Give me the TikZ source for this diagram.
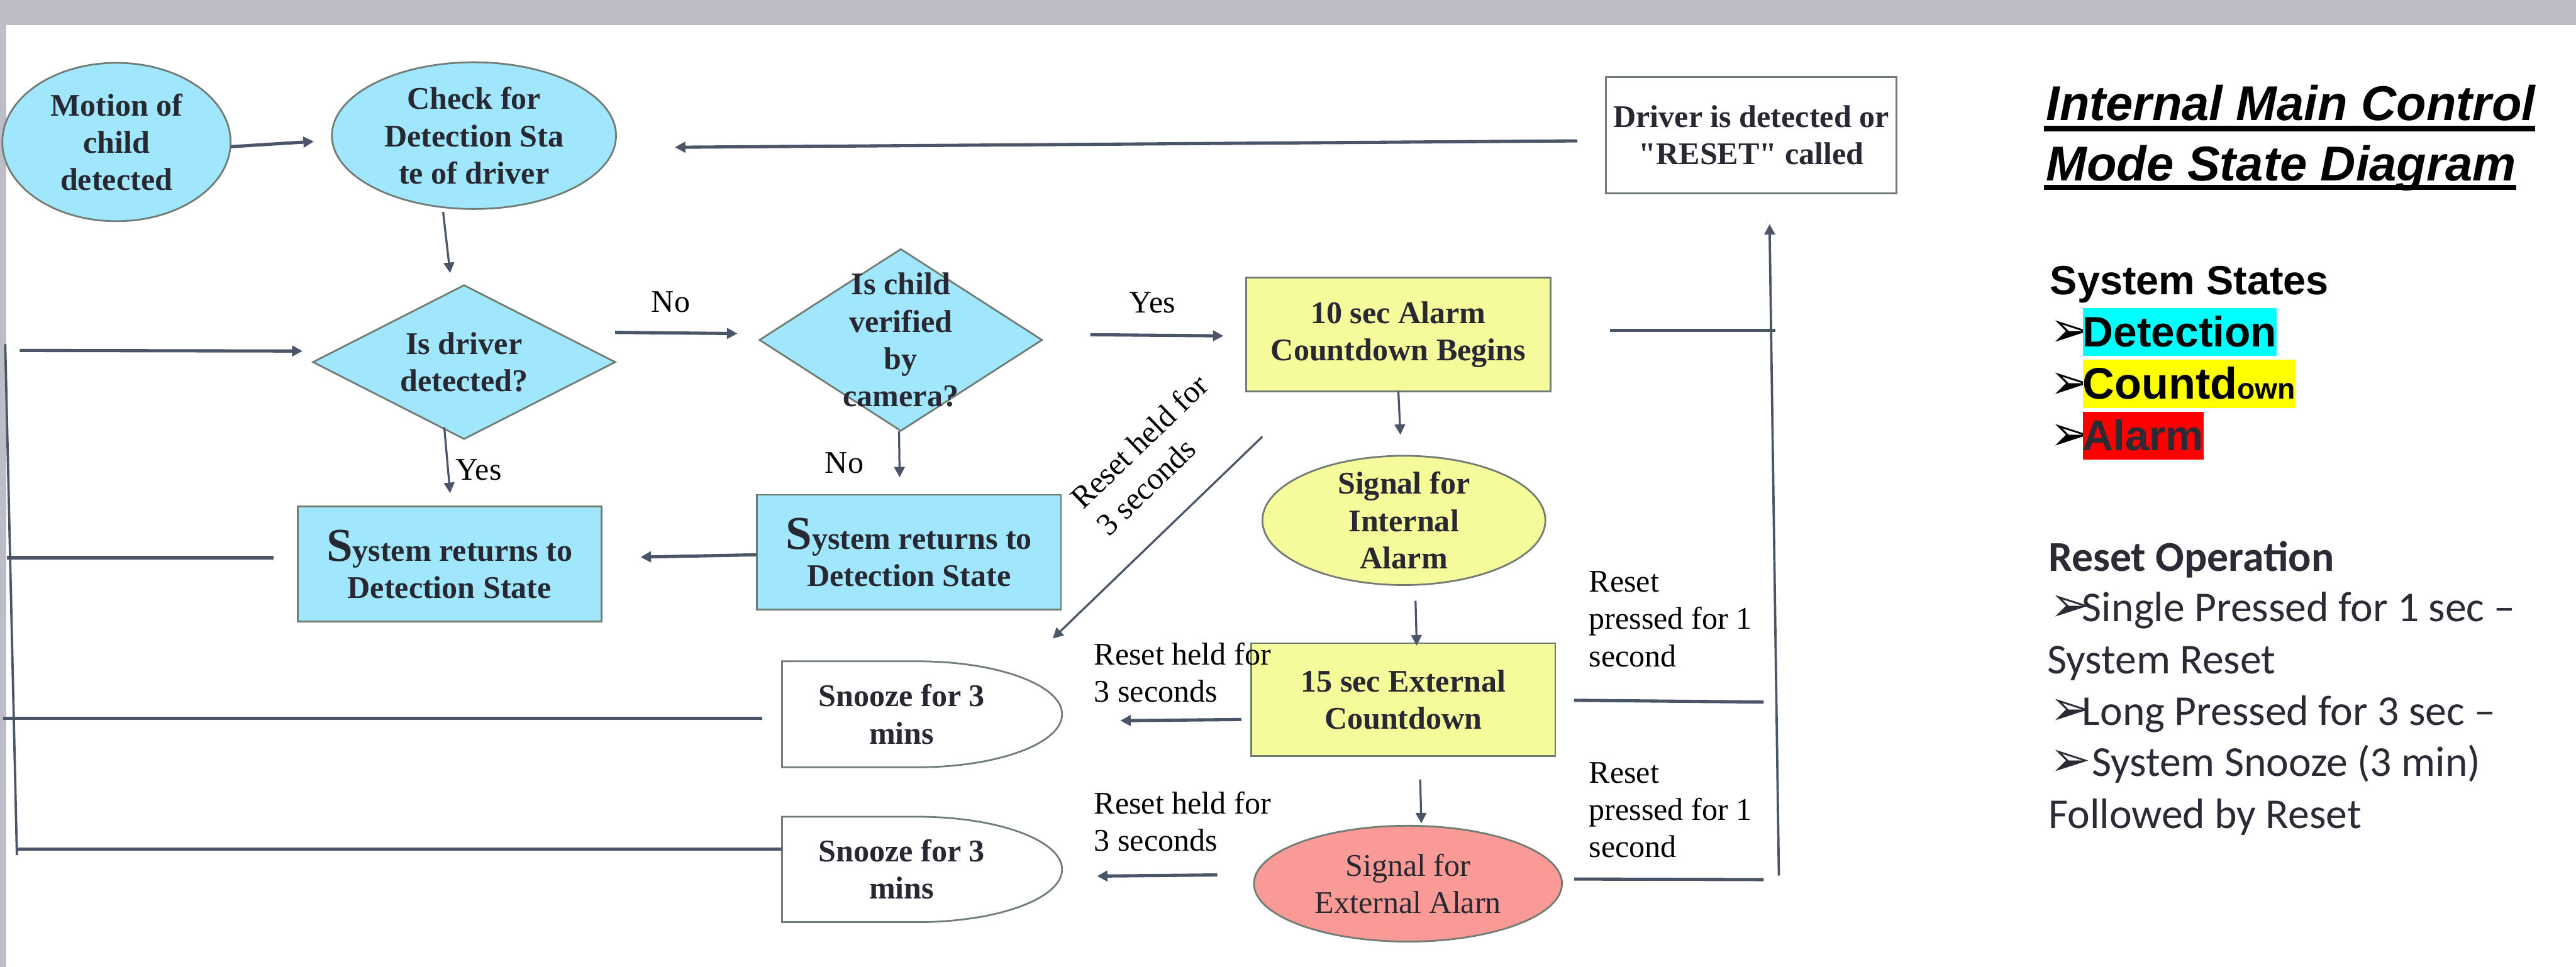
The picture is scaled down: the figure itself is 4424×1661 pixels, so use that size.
\documentclass[tikz,border=0pt]{standalone}
\usepackage{fontspec}
\setmainfont{Liberation Serif}
\newfontfamily\qfont[Ligatures=TeXOff]{Liberation Serif}
\newfontfamily\arialf{Liberation Sans}
\newfontfamily\calif{Carlito}
\newfontfamily\dvsf{DejaVu Sans}
\usetikzlibrary{shapes.geometric,arrows.meta}

\definecolor{bluefill}{RGB}{160,230,253}
\definecolor{yelfill}{RGB}{245,250,155}
\definecolor{redfill}{RGB}{249,154,151}
\definecolor{edgecol}{RGB}{112,124,116}
\definecolor{linecol}{RGB}{74,86,104}
\definecolor{txtcol}{RGB}{40,40,50}
\definecolor{bandcol}{RGB}{189,189,199}
\definecolor{hlcyan}{RGB}{0,255,255}
\definecolor{hlyellow}{RGB}{255,255,0}
\definecolor{hlred}{RGB}{255,0,0}
\definecolor{paneltxt}{RGB}{43,43,53}

\newcommand\dfont{\fontsize{15.4pt}{18.2pt}\selectfont}
\newcommand\bigS{{\fontsize{23pt}{18pt}\selectfont S}}
\newcommand\bulmark{\makebox[5.5mm][l]{\dvsf\fontsize{24pt}{24pt}\selectfont ➢}}
\newcommand\sq{{\qfont\bfseries "}}

\begin{document}
\begin{tikzpicture}[x=0.1mm,y=-0.1mm,
  every node/.style={inner sep=0pt,outer sep=0pt},
  shapebase/.style={draw=edgecol,line width=0.3mm},
  ell/.style={shapebase,ellipse},
  dia/.style={shapebase,diamond},
  box/.style={shapebase,rectangle},
  lbl/.style={font=\dfont\bfseries,align=center,text=txtcol},
  lblr/.style={font=\dfont,align=center,text=txtcol},
  lab/.style={font=\dfont,text=black,align=left},
  thickc/.style={draw=linecol,line width=0.55mm},
  thinc/.style={draw=linecol,line width=0.35mm},
  vline/.style={draw=linecol,line width=0.4mm},
  arr/.style={-{Triangle[length=1.8mm,width=1.8mm]}},
  hl/.style={anchor=base west,font=\arialf\bfseries\fontsize{20.8pt}{24pt}\selectfont,text height=6.7mm,text depth=1.55mm},
  rp/.style={anchor=base west,font=\calif\fontsize{20.8pt}{25pt}\selectfont,text=paneltxt},
]
\useasboundingbox (0,0) rectangle (4424,1661);
\fill[white] (0,0) rectangle (4424,1661);
\fill[bandcol] (0,0) rectangle (4424,43);
\fill[bandcol] (0,0) rectangle (11,1661);

% ---- shapes ----
\node[ell,fill=bluefill,minimum width=39.2mm,minimum height=27.2mm,
  label={[lbl]center:{Motion of\\child\\detected}}] (motion) at (200,244) {};
\node[ell,fill=bluefill,minimum width=48.8mm,minimum height=25.2mm,
  label={[lbl]center:{Check for\\Detection Sta\\te of driver}}] (check) at (814,233) {};
\node[dia,fill=bluefill,minimum width=51.9mm,minimum height=26.4mm,
  label={[lbl]center:{Is driver\\detected?}}] (ddet) at (797,622) {};
\node[dia,fill=bluefill,minimum width=48.5mm,minimum height=31.2mm,
  label={[lbl]center:{Is child\\verified\\by\\camera?}}] (cver) at (1547,584) {};
\node[box,fill=yelfill,minimum width=52.3mm,minimum height=19.5mm,
  label={[lbl]center:{10 sec Alarm\\Countdown Begins}}] (ten) at (2401.5,574.5) {};
\node[ell,fill=yelfill,minimum width=48.6mm,minimum height=22.2mm,
  label={[lbl]center:{Signal for\\Internal\\Alarm}}] (intl) at (2411,894) {};
\node[box,fill=yelfill,minimum width=52.2mm,minimum height=19.4mm,
  label={[lbl]center:{15 sec External\\Countdown}}] (fift) at (2410,1202) {};
\node[ell,fill=redfill,minimum width=52.9mm,minimum height=19.9mm,
  label={[lblr]center:{Signal for\\External Alarn}}] (extl) at (2418,1518) {};
\node[box,fill=bluefill,minimum width=52.2mm,minimum height=19.8mm,
  label={[lbl]center:{\bigS ystem returns to\\Detection State}}] (ret1) at (772,969) {};
\node[box,fill=bluefill,minimum width=52.2mm,minimum height=19.7mm,
  label={[lbl]center:{\bigS ystem returns to\\Detection State}}] (ret2) at (1561,948.5) {};
\node[box,fill=white,minimum width=49.9mm,minimum height=20mm,
  label={[lbl]center:{Driver is detected or\\\sq RESET\sq\ called}}] (drv) at (3007.5,232) {};
\node[minimum width=48.1mm,minimum height=18.2mm] (sn1) at (1583.5,1227) {};
\node[minimum width=48.1mm,minimum height=18.1mm] (sn2) at (1583.5,1493.5) {};
\draw[shapebase,fill=white] (sn1.north west) -- ++(233,0)
  arc[start angle=90,end angle=-90,x radius=24.8mm,y radius=9.1mm] -- (sn1.south west) -- cycle;
\draw[shapebase,fill=white] (sn2.north west) -- ++(233,0)
  arc[start angle=90,end angle=-90,x radius=24.8mm,y radius=9.05mm] -- (sn2.south west) -- cycle;
\node[lbl,xshift=-3.5mm] (sn1t) at (sn1) {Snooze for 3\\mins};
\node[lbl,xshift=-3.5mm] (sn2t) at (sn2) {Snooze for 3\\mins};

% ---- free ends ----
\coordinate (lin) at (34,602);
\coordinate (lvtop) at (9,591);
\coordinate (lvbot) at (29,1469);
\coordinate (lmid1) at (12,958);
\coordinate (lmid2) at (5,1234);
\coordinate (lmid3) at (30,1459);
\coordinate (rj1) at (3049,568);
\coordinate (rj2) at (3029,1206);
\coordinate (rj3) at (3029,1511);
\coordinate (rvbot) at (3055,1504);

% ---- connectors ----
\draw[thickc,arr] ([shift={(0,8)}]motion.east) -- ([shift={(-31,10)}]check.west);
\draw[thickc,arr] ([shift={(-49,10)}]drv.west) -- ([shift={(101,20)}]check.east);
\draw[thinc,arr] ([shift={(-53,5)}]check.south) -- ([shift={(-24,-21)}]ddet.north);
\draw[thickc,arr] (lin) -- ([shift={(-18,-19)}]ddet.west);
\draw[thickc,arr] ([shift={(0,-51)}]ddet.east) -- ([shift={(-38,-11)}]cver.west);
\draw[thinc,arr] ([shift={(-34,-20)}]ddet.south) -- ([shift={(1,-23)}]ret1.north);
\draw[thickc,arr] ([shift={(83,-9)}]cver.east) -- ([shift={(-39,2.5)}]ten.west);
\draw[thinc,arr] ([shift={(-3,1)}]cver.south) -- ([shift={(-16,-30)}]ret2.north);
\draw[thickc,arr] ([shift={(0,4.5)}]ret2.west) -- ([shift={(67,-12)}]ret1.east);
\draw[thickc] ([shift={(-41,-11)}]ret1.west) -- (lmid1);
\draw[thinc,arr] (ten.south) -- ([shift={(-6,-36)}]intl.north);
\draw[thinc,arr] ([shift={(20,27)}]intl.south) -- ([shift={(23,4)}]fift.north);
\draw[thinc,arr] ([shift={(29,40)}]fift.south) -- ([shift={(23,-4)}]extl.north);
\draw[thickc] ([shift={(102,-6.5)}]ten.east) -- (rj1);
\draw[thickc] ([shift={(32,1)}]fift.east) -- (rj2);
\draw[thickc] ([shift={(21,-8)}]extl.east) -- (rj3);
\draw[vline,arr] (rvbot) -- ([shift={(31.5,53)}]drv.south);
\draw[thinc,arr] ([shift={(28,78)}]ten.south west) -- ([shift={(-16,-39)}]sn1.north east);
\draw[thickc,arr] ([shift={(-17,34)}]fift.west) -- ([shift={(100,11)}]sn1.east);
\draw[thickc,arr] ([shift={(-63,-15)}]extl.west) -- ([shift={(60,11.5)}]sn2.east);
\draw[thickc] ([shift={(-34,7)}]sn1.west) -- (lmid2);
\draw[thickc] ([shift={(-1,-34.5)}]sn2.west) -- (lmid3);
\draw[vline] (lvtop) -- (lvbot);

% ---- connector labels ----
\node[lab] (lno1) at (1152,519) {No};
\node[lab] (lyes1) at (822,807) {Yes};
\node[lab] (lyes2) at (1979,520) {Yes};
\node[lab] (lno2) at (1450,795) {No};
\node[lab,rotate=44] (ldiag) at (1979,781) {Reset held for\\3 seconds};
\node[lab,anchor=west] (lrh1) at (1879,1155.5) {Reset held for\\3 seconds};
\node[lab,anchor=west] (lrh2) at (1879,1411.5) {Reset held for\\3 seconds};
\node[lab,anchor=west] (lrp1) at (2729,1063.5) {Reset\\pressed for 1\\second};
\node[lab,anchor=west] (lrp2) at (2729,1391.5) {Reset\\pressed for 1\\second};

% ---- right panel ----
\node[anchor=base west,font=\arialf\bfseries\itshape\fontsize{23.9pt}{29pt}\selectfont] (tt1) at (3514,207) {Internal Main Control};
\node[anchor=base west,font=\arialf\bfseries\itshape\fontsize{23.9pt}{29pt}\selectfont] (tt2) at (3514,310) {Mode State Diagram};
\draw[line width=0.9mm] ([shift={(-4,14)}]tt1.base west) -- ([shift={(0,14)}]tt1.base east);
\draw[line width=0.9mm] ([shift={(-4,12)}]tt2.base west) -- ([shift={(0,12)}]tt2.base east);
\node[anchor=base west,font=\arialf\bfseries\fontsize{19.9pt}{24pt}\selectfont] (sst) at (3521,506) {System States};
\node[anchor=base west] (bu1) at (3521,596) {\bulmark};
\node[anchor=base west] (bu2) at (3521,685) {\bulmark};
\node[anchor=base west] (bu3) at (3521,774) {\bulmark};
\node[hl,fill=hlcyan] (sdet) at (3577,596) {Detection};
\node[hl,fill=hlyellow] (scnt) at (3577,685) {{\fontsize{21.6pt}{24pt}\selectfont Countd}{\fontsize{14.2pt}{18pt}\selectfont own}};
\node[hl,fill=hlred,text=paneltxt] (salm) at (3577,774) {Alarm};
\node[rp,font=\calif\bfseries\fontsize{20.8pt}{25pt}\selectfont] (rop) at (3518,981) {Reset Operation};
\node[rp] (r1) at (3521,1068) {\bulmark Single Pressed for 1 sec –};
\node[rp] (r2) at (3516,1157) {System Reset};
\node[rp] (r3) at (3521,1246) {\bulmark Long Pressed for 3 sec –};
\node[rp] (r4) at (3521,1333) {\bulmark\ System Snooze (3 min)};
\node[rp] (r5) at (3518,1423) {Followed by Reset};
\end{tikzpicture}
\end{document}
